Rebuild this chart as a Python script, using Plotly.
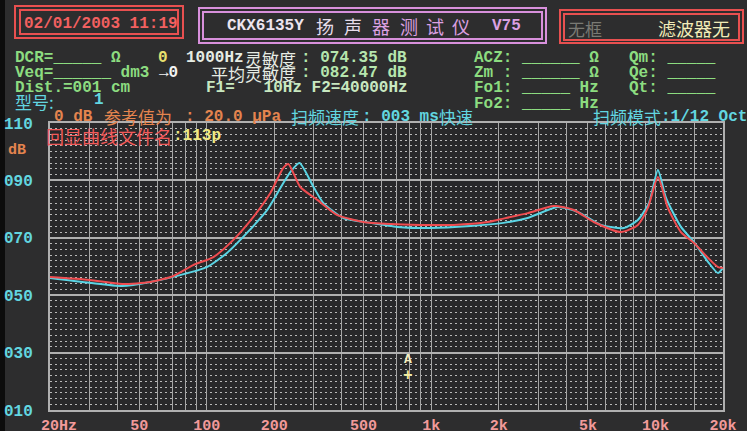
import math
import plotly.graph_objects as go

# ---------------- data ----------------
RED_F = [20, 30, 42, 56, 71, 87, 107, 131, 161, 192, 219, 231, 261, 311, 382, 499, 659, 897,
         1259, 1786, 2042, 2694, 3520, 4325, 5310, 7012, 8347, 9248, 10256, 11360, 12985,
         14850, 17150, 19000, 20000]
RED_DB = [56.3, 55.3, 53.9, 54.6, 56.7, 60.5, 63.3, 69.2, 77.2, 85.6, 94.3, 95.7, 87.7, 83.2,
          77.9, 75.5, 74.8, 74.5, 74.5, 75.5, 76.5, 78.6, 81.1, 79.7, 75.5, 72.0, 74.5, 80.4,
          91.2, 80.4, 72.0, 68.2, 63.0, 59.8, 59.5]

CYAN_F = [20, 30, 42, 56, 76, 100, 123, 151, 186, 219, 236, 259, 299, 331, 406, 537, 708, 994,
          1500, 2104, 2694, 3667, 4510, 5705, 7227, 8347, 9350, 10256, 11140, 12985, 14850,
          17150, 19000, 20000]
CYAN_DB = [56.0, 54.3, 53.2, 54.6, 57.0, 59.8, 64.7, 71.7, 79.7, 89.0, 93.0, 96.1, 87.7, 82.1,
           76.9, 75.2, 73.8, 73.4, 74.1, 75.2, 76.9, 80.7, 79.0, 74.5, 73.4, 76.2, 82.1, 93.6,
           83.9, 73.8, 68.5, 61.6, 57.7, 59.5]

X_GRID = [20, 30, 40, 50, 60, 70, 80, 90, 100, 200, 300, 400, 500, 600, 700, 800, 900,
          1000, 2000, 3000, 4000, 5000, 6000, 7000, 8000, 9000, 10000, 15000, 20000]
X_LABELS = {20: "\u00a0\u00a020Hz", 50: "50", 100: "100", 200: "200", 500: "500", 1000: "1k",
            2000: "2k", 5000: "5k", 10000: "10k", 20000: "20k"}
Y_TICKS = [10, 30, 50, 70, 90, 110]
Y_LABELS = ["010", "030", "050", "070", "090", "110"]
CURSOR_F, CURSOR_DB = 785, 22

# ---------------- geometry helpers ----------------
W_FIG, H_FIG = 747, 431
L, T, R, B = 50, 123, 24, 21
PW, PH = W_FIG - L - R, H_FIG - T - B


def px(x):
    return (x - L) / PW


def py(y):
    return 1 - (y - T) / PH


MONO = "Liberation Mono, DejaVu Sans Mono, monospace"
CJK = "Noto Sans CJK SC, sans-serif"

GREEN = "#8cdc80"
CYAN = "#62d6e0"
ORANGE = "#e4844e"
PINK = "#f29a9a"
RED = "#f25a5a"
YELLOW = "#f0ea84"

annotations = []


def txt(x, y, s, color, size=16, family=MONO, bold=True, anchor="left"):
    s = s.replace(" ", "\u00a0")
    if bold:
        s = "<b>" + s + "</b>"
    annotations.append(dict(x=px(x), y=py(y), xref="paper", yref="paper", text=s,
                            showarrow=False, xanchor=anchor, yanchor="middle",
                            borderpad=0,
                            font=dict(family=family, size=size, color=color)))


# header boxes text
txt(23, 24, "02/01/2003 11:19", "#f26060", 16)
txt(226, 26, "CKX6135Y", "#ece4ee", 16)
for cx, ch in zip([325, 353, 381, 409, 435, 461], "扬声器测试仪"):
    col = "#e6dcea" if cx < 370 else "#dca0e2"
    txt(cx, 26, ch, col, 18, CJK, bold=False, anchor="center")
txt(491, 26, "V75", "#dca0e2", 16)
txt(567, 28, "无框", "#7a7a74", 17, CJK, bold=False)
txt(657, 28, "滤波器无", "#f2ecb8", 18, CJK, bold=False)

# row 1
txt(14, 58, "DCR=_____ Ω", GREEN)
txt(157, 58, "0", "#e8e070")
txt(185, 58, "1000Hz", "#e6ece4")
txt(244, 58, "灵敏度", "#e6ece4", 17, CJK, bold=False)
txt(300, 58, ": 074.35 dB", "#b6e6ae")
txt(473, 58, "ACZ: ______ Ω", GREEN)
txt(628, 58, "Qm: _____", GREEN)
# row 2
txt(14, 73, "Veq=______ dm3", GREEN)
txt(158, 73, "→0", "#f2f2f2")
txt(210, 73, "平均灵敏度", "#e6ece4", 17, CJK, bold=False)
txt(300, 73, ": 082.47 dB", "#b6e6ae")
txt(473, 73, "Zm : ______ Ω", GREEN)
txt(628, 73, "Qe: _____", GREEN)
# row 3
txt(14, 88, "Dist.=001 cm", GREEN)
txt(205, 88, "F1=   10Hz F2=40000Hz", "#c8e8c0")
txt(473, 88, "Fo1: _____ Hz", GREEN)
txt(628, 88, "Qt: _____", GREEN)
# row 4
txt(14, 102, "型号:", CYAN, 17, CJK, bold=False)
txt(93, 100, "1", CYAN)
txt(473, 104, "Fo2: _____ Hz", GREEN)
# row 5
txt(53, 117, "0 dB", ORANGE)
txt(103, 117, "参考值为", ORANGE, 17, CJK, bold=False)
txt(184, 117, ": 20.0 μPa", ORANGE)
txt(290, 117, "扫频速度", CYAN, 17, CJK, bold=False)
txt(361, 117, ": 003 ms", CYAN)
txt(438, 117, "快速", CYAN, 17, CJK, bold=False)
txt(592, 117, "扫频模式", CYAN, 17, CJK, bold=False)
txt(660, 117, ":1/12 Oct", CYAN)

# axis unit + file name
txt(7, 150, "dB", ORANGE, 15)
txt(45, 136, "回显曲线文件名", RED, 18, CJK, bold=False)
txt(172, 136, ":113p", YELLOW, 16)

# cursor marker
annotations.append(dict(x=math.log10(CURSOR_F), y=CURSOR_DB + 5.5, xref="x", yref="y", text="<b>A</b>",
                        showarrow=False, font=dict(family=MONO, size=13, color="#f4eec0")))
annotations.append(dict(x=math.log10(CURSOR_F), y=CURSOR_DB, xref="x", yref="y", text="<b>+</b>",
                        showarrow=False, font=dict(family=MONO, size=16, color="#f4eea0")))

# ---------------- shapes ----------------
shapes = []


def rect(x0, y0, x1, y1, color, width=2):
    shapes.append(dict(type="rect", xref="paper", yref="paper", x0=px(x0), x1=px(x1),
                       y0=py(y1), y1=py(y0), line=dict(color=color, width=width),
                       fillcolor="rgba(0,0,0,0)", layer="above"))


# left dark strip
shapes.append(dict(type="rect", xref="paper", yref="paper", x0=px(0), x1=px(5), y0=py(431), y1=py(0),
                   line=dict(width=0), fillcolor="#0c0c0c", layer="below"))

rect(15, 6, 183, 38, "#e85050")
rect(20, 10, 178, 34, "#e85050")
rect(199, 8, 546, 43, "#d890dc")
rect(203, 12, 542, 39, "#d890dc")
rect(560, 10, 743, 43, "#e85050")
rect(564, 14, 739, 40, "#e85050")

# ---------------- figure ----------------
fig = go.Figure()
fig.add_trace(go.Scatter(x=CYAN_F, y=CYAN_DB, mode="lines",
                         line=dict(color="#5ad4e4", width=2, shape="spline", smoothing=0.6),
                         hoverinfo="skip", showlegend=False))
fig.add_trace(go.Scatter(x=RED_F, y=RED_DB, mode="lines",
                         line=dict(color="#f04c50", width=2, shape="spline", smoothing=0.6),
                         hoverinfo="skip", showlegend=False))

fig.update_layout(
    width=W_FIG, height=H_FIG,
    margin=dict(l=L, r=R, t=T, b=B, pad=0, autoexpand=False),
    paper_bgcolor="#2d2d2e",
    plot_bgcolor="#28282a",
    showlegend=False,
    annotations=annotations,
    shapes=shapes,
    xaxis=dict(
        type="log", range=[math.log10(20), math.log10(20000)],
        tickvals=X_GRID, ticktext=[X_LABELS.get(v, "") for v in X_GRID],
        showgrid=True, gridcolor="#a6a6a6", gridwidth=1.3,
        showline=True, linecolor="#b0b0b0", linewidth=2, mirror=True,
        ticks="", ticklabelstandoff=0, automargin=False,
        tickfont=dict(family=MONO, size=15, color=PINK, weight="bold"),
        zeroline=False, fixedrange=True,
    ),
    yaxis=dict(
        range=[10, 110], tickvals=Y_TICKS, ticktext=Y_LABELS,
        showgrid=True, gridcolor="#b0b0b0", gridwidth=1.5,
        showline=True, linecolor="#b0b0b0", linewidth=2, mirror=True,
        ticks="", ticklabelstandoff=12, automargin=False,
        tickfont=dict(family=MONO, size=16, color=CYAN, weight="bold"),
        minor=dict(tick0=10, dtick=2, showgrid=True, gridcolor="#b8b8b8", gridwidth=1,
                   griddash="2px,3px"),
        zeroline=False, fixedrange=True,
    ),
)

fig.write_html("out.html", config={"displayModeBar": False},
               post_script="document.body.style.margin='0px';document.body.style.overflow='hidden';")
